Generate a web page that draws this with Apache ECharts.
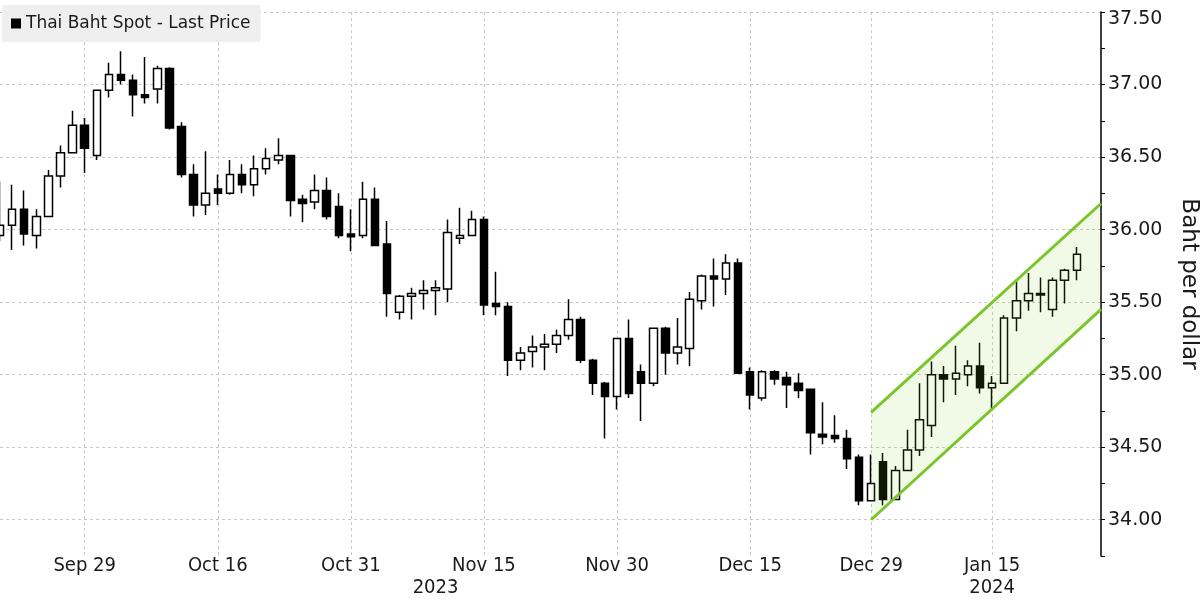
<!DOCTYPE html>
<html>
<head>
<meta charset="utf-8">
<script src="https://cdn.jsdelivr.net/npm/echarts@6/dist/echarts.min.js"></script>
<style>
  html, body { margin: 0; padding: 0; background: #fff; }
  #chart { width: 1200px; height: 600px; }
</style>
</head>
<body>
<div id="chart"></div>
<script>
// trading days shown on the chart (Jan 1 missing), plus two empty slots at the right edge
const sepDays = [20, 21, 22, 25, 26, 27, 28, 29];
const octDays = [2, 3, 4, 5, 6, 9, 10, 11, 12, 13, 16, 17, 18, 19, 20, 23, 24, 25, 26, 27, 30, 31];
const novDays = [1, 2, 3, 6, 7, 8, 9, 10, 13, 14, 15, 16, 17, 20, 21, 22, 23, 24, 27, 28, 29, 30];
const decDays = [1, 4, 5, 6, 7, 8, 11, 12, 13, 14, 15, 18, 19, 20, 21, 22, 25, 26, 27, 28, 29];
const janDays = [2, 3, 4, 5, 8, 9, 10, 11, 12, 15, 16, 17, 18, 19, 22, 23, 24, 25, 26];

const pad = (n) => (n < 10 ? "0" + n : "" + n);
const dates = [].concat(
  sepDays.map((d) => "2023-09-" + pad(d)),
  octDays.map((d) => "2023-10-" + pad(d)),
  novDays.map((d) => "2023-11-" + pad(d)),
  decDays.map((d) => "2023-12-" + pad(d)),
  janDays.map((d) => "2024-01-" + pad(d))
);

// USD/THB daily candles
const open = [
  35.96, 36.03, 36.14, 35.96, 36.09, 36.37, 36.53, 36.72, 36.51, 36.96,
  37.07, 37.03, 36.93, 36.97, 37.11, 36.71, 36.38, 36.17, 36.28, 36.25,
  36.38, 36.31, 36.42, 36.48, 36.51, 36.21, 36.19, 36.27, 36.16, 35.97,
  35.96, 36.21, 35.90, 35.43, 35.54, 35.56, 35.58, 35.59, 35.94, 35.96,
  36.07, 35.49, 35.47, 35.10, 35.16, 35.19, 35.21, 35.27, 35.38, 35.10,
  34.94, 34.85, 35.25, 35.02, 34.94, 35.32, 35.15, 35.18, 35.51, 35.68,
  35.66, 35.77, 35.02, 34.84, 35.02, 34.98, 34.94, 34.90, 34.59, 34.58,
  34.56, 34.43, 34.13, 34.40, 34.14, 34.34, 34.48, 34.65, 35.00, 34.97,
  35.00, 35.06, 34.91, 34.94, 35.39, 35.51, 35.55, 35.45, 35.65, 35.72
];
const close = [
  36.03, 36.14, 35.97, 36.09, 36.37, 36.53, 36.72, 36.56, 36.96, 37.07,
  37.03, 36.93, 36.91, 37.11, 36.70, 36.38, 36.17, 36.25, 36.25, 36.38,
  36.31, 36.42, 36.49, 36.51, 36.20, 36.18, 36.27, 36.09, 35.96, 35.95,
  36.21, 35.89, 35.56, 35.54, 35.56, 35.58, 35.60, 35.98, 35.96, 36.07,
  35.48, 35.47, 35.10, 35.15, 35.19, 35.21, 35.27, 35.38, 35.10, 34.94,
  34.85, 35.25, 34.87, 34.94, 35.32, 35.15, 35.19, 35.52, 35.68, 35.66,
  35.77, 35.01, 34.86, 35.02, 34.97, 34.93, 34.89, 34.60, 34.57, 34.56,
  34.42, 34.13, 34.25, 34.14, 34.34, 34.48, 34.69, 35.00, 34.97, 35.01,
  35.06, 34.91, 34.94, 35.39, 35.51, 35.56, 35.56, 35.65, 35.72, 35.83
];
const low = [
  35.92, 35.86, 35.89, 35.87, 36.09, 36.29, 36.53, 36.39, 36.48, 36.91,
  37.00, 36.78, 36.87, 36.87, 36.69, 36.36, 36.09, 36.10, 36.17, 36.24,
  36.25, 36.23, 36.38, 36.45, 36.09, 36.05, 36.14, 36.07, 35.94, 35.85,
  35.94, 35.89, 35.40, 35.38, 35.38, 35.45, 35.41, 35.50, 35.90, 35.96,
  35.41, 35.41, 34.99, 35.03, 35.05, 35.03, 35.15, 35.24, 35.08, 34.86,
  34.56, 34.76, 34.84, 34.68, 34.92, 35.00, 35.07, 35.06, 35.45, 35.47,
  35.55, 35.01, 34.76, 34.82, 34.93, 34.77, 34.84, 34.45, 34.52, 34.53,
  34.35, 34.10, 34.13, 34.10, 34.14, 34.34, 34.44, 34.57, 34.81, 34.86,
  34.92, 34.87, 34.76, 34.94, 35.30, 35.44, 35.43, 35.40, 35.49, 35.65
];
const high = [
  36.33, 36.31, 36.27, 36.14, 36.41, 36.58, 36.82, 36.77, 36.96, 37.15,
  37.23, 37.07, 37.19, 37.13, 37.12, 36.74, 36.45, 36.54, 36.38, 36.48,
  36.45, 36.51, 36.56, 36.63, 36.51, 36.24, 36.38, 36.36, 36.25, 36.14,
  36.33, 36.29, 36.06, 35.55, 35.60, 35.65, 35.65, 36.07, 36.15, 36.13,
  36.09, 35.71, 35.50, 35.19, 35.27, 35.28, 35.31, 35.52, 35.40, 35.11,
  34.95, 35.25, 35.38, 35.07, 35.32, 35.33, 35.39, 35.57, 35.69, 35.80,
  35.83, 35.80, 35.05, 35.03, 35.03, 35.02, 35.01, 34.90, 34.81, 34.72,
  34.62, 34.45, 34.45, 34.46, 34.37, 34.62, 34.94, 35.09, 35.06, 35.20,
  35.10, 35.22, 34.99, 35.41, 35.66, 35.70, 35.67, 35.67, 35.73, 35.88
];

// rising channel drawn on the chart
const channelDates = ["2023-12-29", "2024-01-26"];
const channelLower = [34.0, 35.45];
const channelUpper = [34.74, 36.18];

const xLabelDates = ["2023-09-29", "2023-10-16", "2023-10-31", "2023-11-15",
  "2023-11-30", "2023-12-15", "2023-12-29", "2024-01-15"];
const yearLabelDates = ["2023-11-09", "2024-01-15"];
const yearLabelTexts = ["2023", "2024"];
const yTickLabels = [34.0, 34.5, 35.0, 35.5, 36.0, 36.5, 37.0, 37.5];

const seriesName = "Thai Baht Spot - Last Price";
const monthNames = ["Jan", "Feb", "Mar", "Apr", "May", "Jun", "Jul", "Aug", "Sep", "Oct", "Nov", "Dec"];

const ohlc = open.map((o, i) => [o, close[i], low[i], high[i]]);

const chart = echarts.init(document.getElementById("chart"), null, { renderer: "canvas" });

const green = "#7ac52a";
const xFont = "'DejaVu Sans Condensed', 'Liberation Sans', sans-serif";

chart.setOption({
  animation: false,
  backgroundColor: "#fff",
  legend: {
    left: 2,
    top: 5,
    padding: [10, 10, 10, 9],
    backgroundColor: "#efefef",
    borderRadius: 2,
    itemWidth: 10,
    itemHeight: 10,
    itemGap: 6,
    selectedMode: false,
    textStyle: { fontFamily: "DejaVu Sans", fontSize: 17, color: "#1a1a1a" },
    data: [{ name: seriesName, icon: "rect", itemStyle: { color: "#000", borderWidth: 0 } }]
  },
  grid: { left: 0, right: 99, top: 12, bottom: 44, containLabel: false, outerBoundsMode: "none" },
  xAxis: [
    {
      type: "category",
      data: dates,
      boundaryGap: false,
      axisLine: { show: false },
      axisTick: { show: false },
      axisLabel: {
        interval: (i, v) => xLabelDates.indexOf(v) >= 0,
        formatter: (v) => monthNames[+v.slice(5, 7) - 1] + " " + (+v.slice(8, 10)),
        fontFamily: xFont,
        fontSize: 20,
        color: "#1a1a1a",
        margin: 0
      },
      splitLine: {
        show: true,
        interval: (i, v) => xLabelDates.indexOf(v) >= 0,
        lineStyle: { color: "#c8c8c8", type: [3, 3], width: 1 }
      }
    },
    {
      type: "category",
      data: dates,
      boundaryGap: false,
      position: "bottom",
      offset: 22,
      axisLine: { show: false },
      axisTick: { show: false },
      splitLine: { show: false },
      axisLabel: {
        interval: (i, v) => yearLabelDates.indexOf(v) >= 0,
        formatter: (v) => {
          const k = yearLabelDates.indexOf(v);
          return k >= 0 ? yearLabelTexts[k] : "";
        },
        fontFamily: xFont,
        fontSize: 20,
        color: "#1a1a1a",
        margin: 0
      }
    }
  ],
  yAxis: {
    type: "value",
    position: "right",
    min: 33.75,
    max: 37.5,
    interval: 0.25,
    name: "Baht per dollar",
    nameLocation: "middle",
    nameRotate: -90,
    nameGap: 76,
    nameTextStyle: { fontFamily: "DejaVu Sans", fontSize: 23, color: "#1a1a1a" },
    axisLine: { show: true, lineStyle: { color: "#000", width: 1.5 } },
    axisTick: { show: true, length: 4, lineStyle: { color: "#000" } },
    axisLabel: {
      formatter: (v) => {
        if (!yTickLabels.some((t) => Math.abs(t - v) < 1e-6)) return "";
        return v >= 37.5 ? "{top|" + v.toFixed(2) + "}" : v.toFixed(2);
      },
      rich: { top: { padding: [14, 0, 0, 0], fontFamily: "DejaVu Sans", fontSize: 19, color: "#1a1a1a" } },
      fontFamily: "DejaVu Sans",
      fontSize: 19,
      color: "#1a1a1a",
      margin: 7
    },
    splitLine: {
      show: true,
      lineStyle: { color: ["rgba(0,0,0,0)", "#c8c8c8"], type: [3, 3], width: 1 }
    }
  },
  series: [
    {
      name: seriesName,
      type: "candlestick",
      data: ohlc,
      barWidth: 8,
      z: 2,
      itemStyle: {
        color: "#fff",
        color0: "#000",
        borderColor: "#000",
        borderColor0: "#000",
        borderWidth: 1.5
      }
    },
    {
      type: "line",
      stack: "channel",
      data: channelDates.map((d, i) => [d, channelLower[i]]),
      symbol: "none",
      silent: true,
      z: 3,
      lineStyle: { color: green, width: 3 }
    },
    {
      type: "line",
      stack: "channel",
      data: channelDates.map((d, i) => [d, channelUpper[i] - channelLower[i]]),
      symbol: "none",
      silent: true,
      z: 3,
      lineStyle: { color: green, width: 3 },
      areaStyle: { color: "rgba(130,200,40,0.16)" }
    }
  ]
});
</script>
</body>
</html>
